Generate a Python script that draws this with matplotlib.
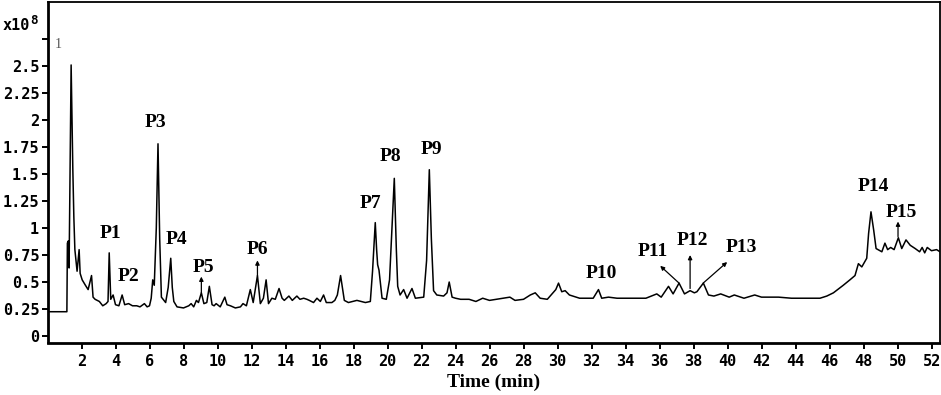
import matplotlib
matplotlib.use("Agg")
import matplotlib.pyplot as plt

# ---- data (signal in units of 1e8) ----
time_min = [0.0, 1.14, 1.17, 1.22, 1.27, 1.39, 1.49, 1.55, 1.61, 1.74, 1.86, 1.92, 2.04, 2.23, 2.39,
            2.59, 2.68, 2.80, 2.92, 3.05, 3.25, 3.45, 3.56, 3.63, 3.72, 3.86, 4.00, 4.20, 4.39, 4.54,
            4.77, 5.00, 5.25, 5.44, 5.70, 5.86, 6.00, 6.10, 6.19, 6.28, 6.40, 6.50, 6.60, 6.70, 6.95,
            7.10, 7.25, 7.34, 7.43, 7.62, 8.00, 8.31, 8.45, 8.60, 8.76, 8.88, 9.05, 9.20, 9.37, 9.52,
            9.68, 9.80, 9.92, 10.16, 10.43, 10.56, 10.76, 11.05, 11.35, 11.50, 11.70, 11.93, 12.10,
            12.35, 12.52, 12.70, 12.86, 13.00, 13.20, 13.40, 13.62, 13.80, 13.93, 14.20, 14.40, 14.67,
            14.85, 15.07, 15.26, 15.40, 15.65, 15.85, 16.05, 16.24, 16.40, 16.73, 16.90, 17.05, 17.24,
            17.46, 17.70, 18.20, 18.70, 18.99, 19.12, 19.28, 19.36, 19.42, 19.50, 19.68, 19.93, 20.12,
            20.26, 20.40, 20.52, 20.60, 20.74, 20.95, 21.15, 21.44, 21.64, 22.13, 22.30, 22.46, 22.58,
            22.71, 22.90, 23.30, 23.50, 23.63, 23.80, 24.00, 24.30, 24.80, 25.20, 25.60, 26.00, 26.40,
            26.80, 27.20, 27.50, 28.00, 28.40, 28.69, 28.98, 29.40, 29.90, 30.06, 30.25, 30.45, 30.70,
            31.30, 31.80, 32.10, 32.41, 32.60, 33.00, 33.50, 34.00, 34.67, 35.20, 35.84, 36.10, 36.53,
            36.80, 37.15, 37.47, 37.80, 38.05, 38.20, 38.58, 38.88, 39.20, 39.60, 40.10, 40.40, 40.97,
            41.60, 42.00, 43.00, 43.76, 44.70, 45.44, 45.84, 46.23, 46.81, 47.20, 47.50, 47.70, 47.90,
            48.19, 48.30, 48.44, 48.60, 48.74, 49.08, 49.26, 49.42, 49.60, 49.80, 50.05, 50.25, 50.50,
            50.75, 51.04, 51.30, 51.45, 51.60, 51.75, 52.00, 52.30, 52.50]
signal_e8 = [0.225, 0.225, 0.86, 0.88, 0.63, 2.51, 1.54, 1.10, 0.80, 0.60, 0.80, 0.58, 0.52, 0.47, 0.43,
             0.56, 0.36, 0.34, 0.33, 0.32, 0.28, 0.30, 0.32, 0.77, 0.34, 0.38, 0.29, 0.28, 0.38, 0.29,
             0.30, 0.28, 0.28, 0.27, 0.30, 0.27, 0.28, 0.35, 0.52, 0.47, 1.00, 1.78, 0.90, 0.36, 0.31,
             0.45, 0.72, 0.45, 0.32, 0.27, 0.26, 0.28, 0.30, 0.27, 0.33, 0.31, 0.40, 0.30, 0.31, 0.46,
             0.29, 0.28, 0.30, 0.27, 0.36, 0.29, 0.28, 0.26, 0.27, 0.30, 0.28, 0.43, 0.31,
             0.56, 0.30, 0.35, 0.52, 0.30, 0.35, 0.34, 0.44, 0.35, 0.33, 0.37, 0.33, 0.37,
             0.34, 0.35, 0.34, 0.33, 0.31, 0.35, 0.32, 0.38, 0.31, 0.31, 0.33, 0.38, 0.56,
             0.33, 0.31, 0.33, 0.31, 0.32, 0.60, 1.05, 0.80, 0.66, 0.61, 0.35, 0.34, 0.52,
             1.00, 1.46, 0.80, 0.46, 0.38, 0.43, 0.35, 0.44, 0.35, 0.36, 0.70, 1.54, 0.90,
             0.42, 0.38, 0.37, 0.40, 0.50, 0.36, 0.35, 0.34, 0.34, 0.32, 0.35, 0.33, 0.34,
             0.35, 0.36, 0.33, 0.34, 0.38, 0.40, 0.35, 0.34, 0.43, 0.49, 0.41, 0.42, 0.38,
             0.35, 0.35, 0.35, 0.43, 0.35, 0.36, 0.35, 0.35, 0.35, 0.35, 0.39, 0.36, 0.46,
             0.39, 0.49, 0.39, 0.42, 0.40, 0.41, 0.49, 0.38, 0.37, 0.39, 0.36, 0.38, 0.35,
             0.38, 0.36, 0.36, 0.35, 0.35, 0.35, 0.37, 0.40, 0.47, 0.52, 0.56, 0.67, 0.64,
             0.72, 0.95, 1.15, 0.98, 0.81, 0.78, 0.86, 0.80, 0.82, 0.80, 0.91, 0.81, 0.89,
             0.84, 0.81, 0.78, 0.82, 0.77, 0.82, 0.79, 0.80, 0.78]

x_ticks = list(range(2, 53, 2))
y_ticks = [0, 0.25, 0.5, 0.75, 1, 1.25, 1.5, 1.75, 2, 2.25, 2.5, 2.75]
y_tick_labels = ["0", "0.25", "0.5", "0.75", "1", "1.25", "1.5", "1.75", "2", "2.25", "2.5", ""]

peak_labels = ["P1", "P2", "P3", "P4", "P5", "P6", "P7", "P8", "P9", "P10",
               "P11", "P12", "P13", "P14", "P15"]
label_x = [3.70, 4.76, 6.35, 7.58, 9.17, 12.35, 18.99, 20.20, 22.56, 32.57,
           35.63, 37.92, 40.80, 48.56, 50.25]
label_y = [0.95, 0.55, 1.98, 0.89, 0.63, 0.80, 1.23, 1.66, 1.73, 0.58,
           0.78, 0.88, 0.82, 1.38, 1.14]

# arrows: (tail_x, tail_y, head_x, head_y)
arrows = [(9.05, 0.40, 9.05, 0.55),
          (12.35, 0.56, 12.35, 0.70),
          (37.15, 0.49, 36.04, 0.65),
          (37.80, 0.44, 37.80, 0.75),
          (38.57, 0.49, 39.98, 0.685),
          (50.03, 0.92, 50.03, 1.06)]

W, H = 941, 395
fig = plt.figure(figsize=(W / 100, H / 100), dpi=100)
ax = fig.add_axes([47.5 / W, 1 - 342.5 / H, (940 - 47.5) / W, (342.5 - 2) / H])

ax.plot(time_min, signal_e8, color="black", lw=1.1)
ax.set_xlim(0, 52.5)
ax.set_ylim(-0.06, 3.093)

mono = "DejaVu Sans Mono"
serif = "Liberation Serif"
ax.set_xticks(x_ticks)
ax.set_xticklabels([str(t) for t in x_ticks], fontfamily=mono, fontweight="bold", fontsize=11)
ax.set_yticks(y_ticks)
ax.set_yticklabels(y_tick_labels, fontfamily=mono, fontweight="bold", fontsize=11)
ax.tick_params(axis="both", direction="out", length=4, width=1.4, colors="black", pad=2)
ax.tick_params(axis="x", pad=4)

for side in ["left", "bottom"]:
    ax.spines[side].set_linewidth(2.0)
for side in ["top", "right"]:
    ax.spines[side].set_linewidth(1.3)

ax.set_xlabel("Time (min)", fontfamily=serif, fontweight="bold", fontsize=14, labelpad=4)

for lab, lx, ly in zip(peak_labels, label_x, label_y):
    ax.text(lx, ly, lab, fontfamily=serif, fontweight="bold", fontsize=14,
            ha="center", va="center")

for tx, ty, hx, hy in arrows:
    ax.annotate("", xy=(hx, hy), xytext=(tx, ty),
                arrowprops=dict(arrowstyle="-|>", color="black", lw=0.9,
                                mutation_scale=6, shrinkA=0, shrinkB=0))

ax.text(0.45, 2.70, "1", fontfamily=serif, fontsize=10, color="#555555", va="center")
fig.text(3 / W, 1 - 25 / H, "x10", fontfamily=mono, fontweight="bold", fontsize=11,
         va="center", ha="left")
fig.text(30 / W, 1 - 20 / H, "8", fontfamily=mono, fontweight="bold", fontsize=9,
         va="center", ha="left")

fig.savefig("out.png", dpi=100)
